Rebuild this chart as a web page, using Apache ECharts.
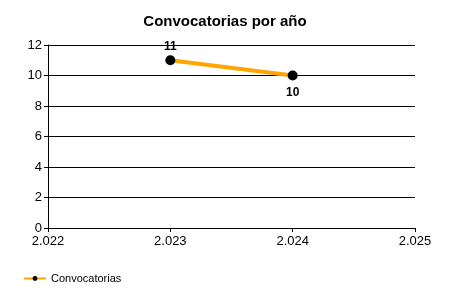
<!DOCTYPE html>
<html>
<head>
<meta charset="utf-8">
<script src="https://cdn.jsdelivr.net/npm/echarts@6/dist/echarts.min.js"></script>
<style>html,body{margin:0;padding:0;background:#fff;}#c{width:450px;height:300px;}</style>
</head>
<body>
<div id="c"></div>
<script>
const titleText = 'Convocatorias por año';
const seriesName = 'Convocatorias';
const years = [2023, 2024];
const values = [11, 10];
const xTicks = { min: 2022, max: 2025, step: 1 };
const yTicks = { min: 0, max: 12, step: 2 };

const fmtThousands = v => String(v).replace(/(\d)(\d{3})$/, '$1.$2');
const font = '"Liberation Sans", Arial, sans-serif';

const data = years.map((y, i) => ({
  value: [y, values[i]],
  label: { position: i === 0 ? 'top' : 'bottom', distance: i === 0 ? 3 : 6 }
}));

const chart = echarts.init(document.getElementById('c'));
chart.setOption({
  animation: false,
  backgroundColor: '#fff',
  title: {
    text: titleText, left: 'center', top: 9,
    textStyle: { fontFamily: font, fontSize: 15, fontWeight: 'bold', color: '#000' }
  },
  grid: { left: 48, right: 35, top: 45, bottom: 72 },
  legend: {
    left: 18, top: 268, itemWidth: 22, itemHeight: 6, itemGap: 4,
    textStyle: { fontFamily: font, fontSize: 11, color: '#000', padding: [0, 0, 0, 0] },
    data: [seriesName]
  },
  xAxis: {
    type: 'value', min: xTicks.min, max: xTicks.max, interval: xTicks.step,
    axisLine: { show: true, lineStyle: { color: '#000', width: 1 } },
    axisTick: { show: true, length: 4, lineStyle: { color: '#000' } },
    splitLine: { show: false },
    axisLabel: { formatter: fmtThousands, color: '#000', fontFamily: font, fontSize: 13, margin: 7 }
  },
  yAxis: {
    type: 'value', min: yTicks.min, max: yTicks.max, interval: yTicks.step,
    axisLine: { show: true, lineStyle: { color: '#000', width: 1 } },
    axisTick: { show: true, length: 4, lineStyle: { color: '#000' } },
    splitLine: { show: true, lineStyle: { color: '#000', width: 1 } },
    axisLabel: { color: '#000', fontFamily: font, fontSize: 13, margin: 6 }
  },
  series: [{
    name: seriesName, type: 'line', data: data,
    symbol: 'circle', symbolSize: 10,
    itemStyle: { color: '#000' },
    lineStyle: { color: '#FFA500', width: 4 },
    label: { show: true, color: '#000', fontFamily: font, fontSize: 12, fontWeight: 'bold' }
  }]
});
</script>
</body>
</html>
